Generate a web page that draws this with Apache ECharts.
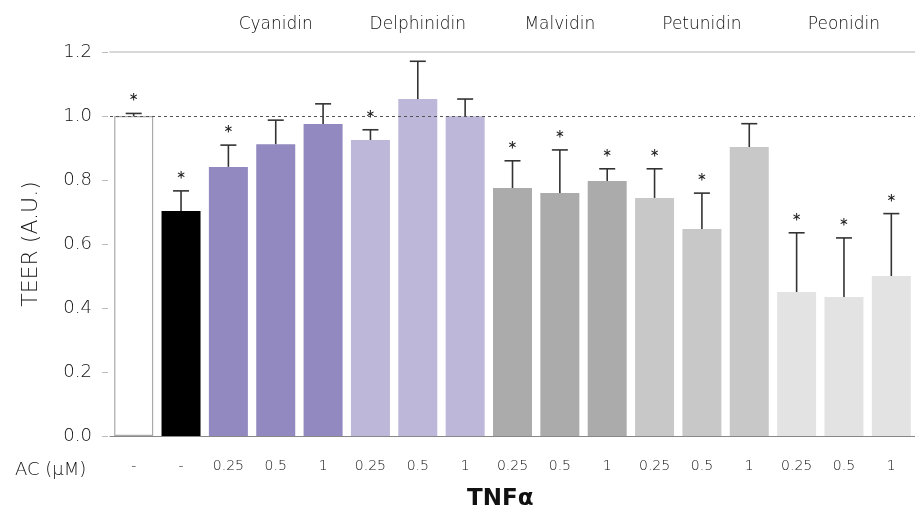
<!DOCTYPE html>
<html>
<head>
<meta charset="utf-8">
<script src="https://cdn.jsdelivr.net/npm/echarts@6/dist/echarts.min.js"></script>
<style>html,body{margin:0;padding:0;background:#fff}#c{width:915px;height:512px}</style>
</head>
<body>
<div id="c"></div>
<script>
const categories = ['-', '-', '0.25', '0.5', '1', '0.25', '0.5', '1', '0.25', '0.5', '1', '0.25', '0.5', '1', '0.25', '0.5', '1'];
const groupLabels = ['', '', '', 'Cyanidin', '', '', 'Delphinidin', '', '', 'Malvidin', '', '', 'Petunidin', '', '', 'Peonidin', ''];
const means = [1.0, 0.703, 0.841, 0.912, 0.975, 0.925, 1.053, 0.999, 0.775, 0.759, 0.797, 0.744, 0.647, 0.903, 0.450, 0.434, 0.500];
const errors = [0.008, 0.063, 0.068, 0.075, 0.063, 0.032, 0.118, 0.054, 0.085, 0.135, 0.038, 0.091, 0.112, 0.073, 0.185, 0.185, 0.195];
const significant = [1, 1, 1, 0, 0, 1, 0, 0, 1, 1, 1, 1, 1, 0, 1, 1, 1];
const yTicks = [0, 0.2, 0.4, 0.6, 0.8, 1.0, 1.2];

const barColors = ['#ffffff', '#000000', '#9189bf', '#9189bf', '#9189bf', '#bdb8da', '#bdb8da', '#bdb8da',
  '#ababab', '#ababab', '#ababab', '#c8c8c8', '#c8c8c8', '#c8c8c8', '#e3e3e3', '#e3e3e3', '#e3e3e3'];

const FONT = 'DejaVu Sans';
const chart = echarts.init(document.getElementById('c'), null, {renderer: 'canvas'});

const barData = means.map((v, i) => ({
  value: v,
  itemStyle: i === 0 ? {color: '#fff', borderColor: '#aaa', borderWidth: 1.2} : {color: barColors[i]}
}));
const errData = means.map((v, i) => [i, v, errors[i], significant[i]]);

chart.setOption({
  animation: false,
  textStyle: {fontFamily: FONT},
  title: [
    {text: 'TNFα', left: 462, top: 483, textStyle: {fontFamily: FONT, fontSize: 23, fontWeight: 'bold', color: '#111'}},
    {text: 'AC (µM)', left: 10, top: 456, textStyle: {fontFamily: FONT, fontSize: 18, fontWeight: 200, color: '#111'}}
  ],
  grid: {left: 110, right: -6, top: 52, bottom: 76},
  xAxis: [
    {
      type: 'category', data: categories, position: 'bottom',
      axisLine: {lineStyle: {color: '#888', width: 1.2}},
      axisTick: {show: false},
      axisLabel: {interval: 0, margin: 23, fontSize: 14, fontWeight: 200, color: '#111', fontFamily: FONT}
    },
    {
      type: 'category', data: groupLabels, position: 'top',
      axisLine: {lineStyle: {color: '#cccccc', width: 1.5}},
      axisTick: {show: false},
      axisLabel: {interval: 0, margin: 19, fontSize: 17, fontWeight: 200, color: '#111', fontFamily: FONT}
    }
  ],
  yAxis: {
    type: 'value', min: 0, max: 1.2, interval: 0.2, offset: 8,
    name: 'TEER (A.U.)', nameLocation: 'middle', nameGap: 60,
    nameTextStyle: {fontSize: 22, fontWeight: 200, color: '#111', fontFamily: FONT},
    axisLine: {show: false},
    axisTick: {show: true, inside: true, length: 6, lineStyle: {color: '#bbb'}},
    splitLine: {show: false},
    axisLabel: {margin: 10, fontSize: 18, fontWeight: 200, color: '#111', fontFamily: FONT,
      formatter: v => yTicks.indexOf(Math.round(v * 10) / 10) >= 0 ? v.toFixed(1) : ''}
  },
  series: [
    {
      type: 'bar', data: barData, barWidth: 39, xAxisIndex: 0,
      markLine: {
        silent: true, symbol: 'none', label: {show: false},
        lineStyle: {color: '#555', type: [3, 3], width: 1},
        data: [{yAxis: 1.0}]
      }
    },
    {
      type: 'custom', xAxisIndex: 0, data: errData, encode: {x: 0, y: 1}, z: 5,
      renderItem: function (params, api) {
        const idx = api.value(0);
        const m = api.value(1);
        const e = api.value(2);
        const s = api.value(3);
        const p0 = api.coord([idx, m]);
        const p1 = api.coord([idx, m + e]);
        const half = 8;
        const children = [
          {type: 'line', shape: {x1: p0[0], y1: p0[1], x2: p1[0], y2: p1[1]}, style: {stroke: '#333', lineWidth: 1.6}},
          {type: 'line', shape: {x1: p1[0] - half, y1: p1[1], x2: p1[0] + half, y2: p1[1]}, style: {stroke: '#333', lineWidth: 1.6}}
        ];
        if (s) {
          children.push({type: 'text', x: p1[0], y: p1[1] + 1,
            style: {text: '*', fontSize: 23, fontFamily: 'Lato', fill: '#222', align: 'center', verticalAlign: 'bottom'}});
        }
        return {type: 'group', children: children};
      }
    }
  ]
});
</script>
</body>
</html>
